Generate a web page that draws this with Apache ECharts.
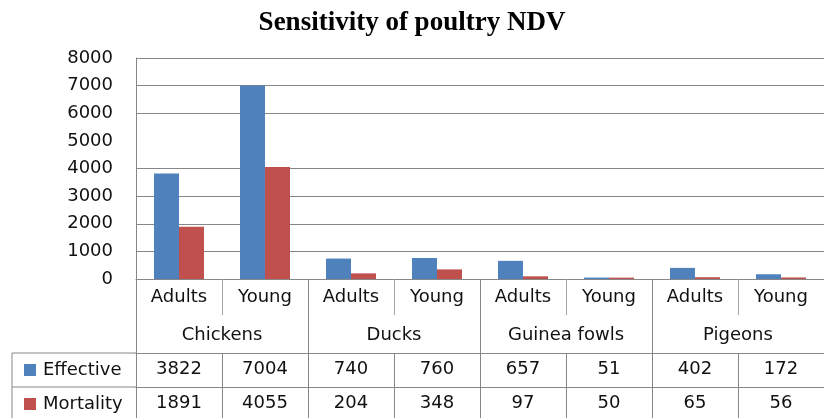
<!DOCTYPE html>
<html>
<head>
<meta charset="utf-8">
<script src="https://cdn.jsdelivr.net/npm/echarts@6/dist/echarts.min.js"></script>
<style>html,body{margin:0;padding:0;background:#fff;}#c{width:824px;height:418px;}</style>
</head>
<body>
<div id="c"></div>
<script>
var titleText = 'Sensitivity of poultry NDV';
var groups = ['Chickens', 'Ducks', 'Guinea fowls', 'Pigeons'];
var subLabels = ['Adults', 'Young', 'Adults', 'Young', 'Adults', 'Young', 'Adults', 'Young'];
var seriesNames = ['Effective', 'Mortality'];
var effective = [3822, 7004, 740, 760, 657, 51, 402, 172];
var mortality = [1891, 4055, 204, 348, 97, 50, 65, 56];
var gridLineValues = [1000, 2000, 3000, 4000, 6000, 7000, 8000];

var blue = '#4F81BD', red = '#C0504D', gridC = '#878787', tickC = '#a6a6a6', txt = '#111';
var font = 'DejaVu Sans';
var fs = 18;

var chart = echarts.init(document.getElementById('c'));

function legendBox(name, top) {
  return {
    data: [name], left: 19, top: top,
    icon: 'rect', itemWidth: 12, itemHeight: 12,
    textStyle: { fontFamily: font, fontSize: fs, color: txt, padding: [0, 0, 0, 2] },
    selectedMode: false
  };
}

chart.setOption({
  animation: false,
  backgroundColor: '#fff',
  title: {
    text: titleText, left: 'center', top: 5,
    textStyle: { fontFamily: 'Liberation Serif', fontWeight: 'bold', fontSize: 27, color: '#000' }
  },
  legend: [legendBox(seriesNames[0], 356), legendBox(seriesNames[1], 390)],
  grid: { left: 136, top: 58, right: -14, bottom: 139, containLabel: false },
  yAxis: {
    type: 'value', min: 0, max: 8000, interval: 1000,
    axisLine: { show: true, lineStyle: { color: gridC, width: 1 } },
    axisTick: { show: false },
    axisLabel: { margin: 23, fontFamily: font, fontSize: fs, color: txt,
      formatter: function (v) { return String(v); } },
    splitLine: { show: false }
  },
  xAxis: [
    {
      type: 'category', data: subLabels, position: 'bottom',
      axisLine: { show: true, lineStyle: { color: gridC, width: 1 } },
      axisTick: { show: true, interval: 0, length: 36, lineStyle: { color: tickC } },
      axisLabel: { interval: 0, margin: 9, fontFamily: font, fontSize: fs, color: txt }
    },
    {
      type: 'category', data: groups, position: 'bottom',
      axisLine: { show: false },
      axisTick: { show: true, interval: 0, length: 139, lineStyle: { color: gridC } },
      axisLabel: { interval: 0, margin: 47, fontFamily: font, fontSize: fs, color: txt }
    },
    {
      type: 'category', data: subLabels, position: 'bottom', offset: 74,
      axisLine: { show: true, lineStyle: { color: gridC, width: 1 } },
      axisTick: { show: true, interval: 0, length: 65, lineStyle: { color: gridC } },
      axisLabel: { interval: 0, margin: 7, fontFamily: font, fontSize: fs, color: txt,
        formatter: function (v, i) { return String(effective[i]); } }
    },
    {
      type: 'category', data: subLabels, position: 'bottom', offset: 108,
      axisLine: { show: true, lineStyle: { color: gridC, width: 1 } },
      axisTick: { show: false },
      axisLabel: { interval: 0, margin: 7, fontFamily: font, fontSize: fs, color: txt,
        formatter: function (v, i) { return String(mortality[i]); } }
    }
  ],
  graphic: [
    { type: 'line', shape: { x1: 12, y1: 353, x2: 136, y2: 353 }, style: { stroke: gridC, lineWidth: 1 } },
    { type: 'line', shape: { x1: 12, y1: 387, x2: 136, y2: 387 }, style: { stroke: gridC, lineWidth: 1 } },
    { type: 'line', shape: { x1: 12, y1: 353, x2: 12, y2: 418 }, style: { stroke: gridC, lineWidth: 1 } }
  ],
  series: [
    { name: seriesNames[0], type: 'bar', xAxisIndex: 0, data: effective, barWidth: 25, barGap: '0%',
      itemStyle: { color: blue }, z: 3,
      markLine: {
        silent: true, symbol: ['none', 'none'], label: { show: false },
        lineStyle: { color: gridC, width: 1, type: 'solid' },
        emphasis: { disabled: true },
        z: 1,
        data: gridLineValues.map(function (v) { return { yAxis: v }; })
      }
    },
    { name: seriesNames[1], type: 'bar', xAxisIndex: 0, data: mortality, barWidth: 25, barGap: '0%',
      itemStyle: { color: red }, z: 3 }
  ]
});
</script>
</body>
</html>
